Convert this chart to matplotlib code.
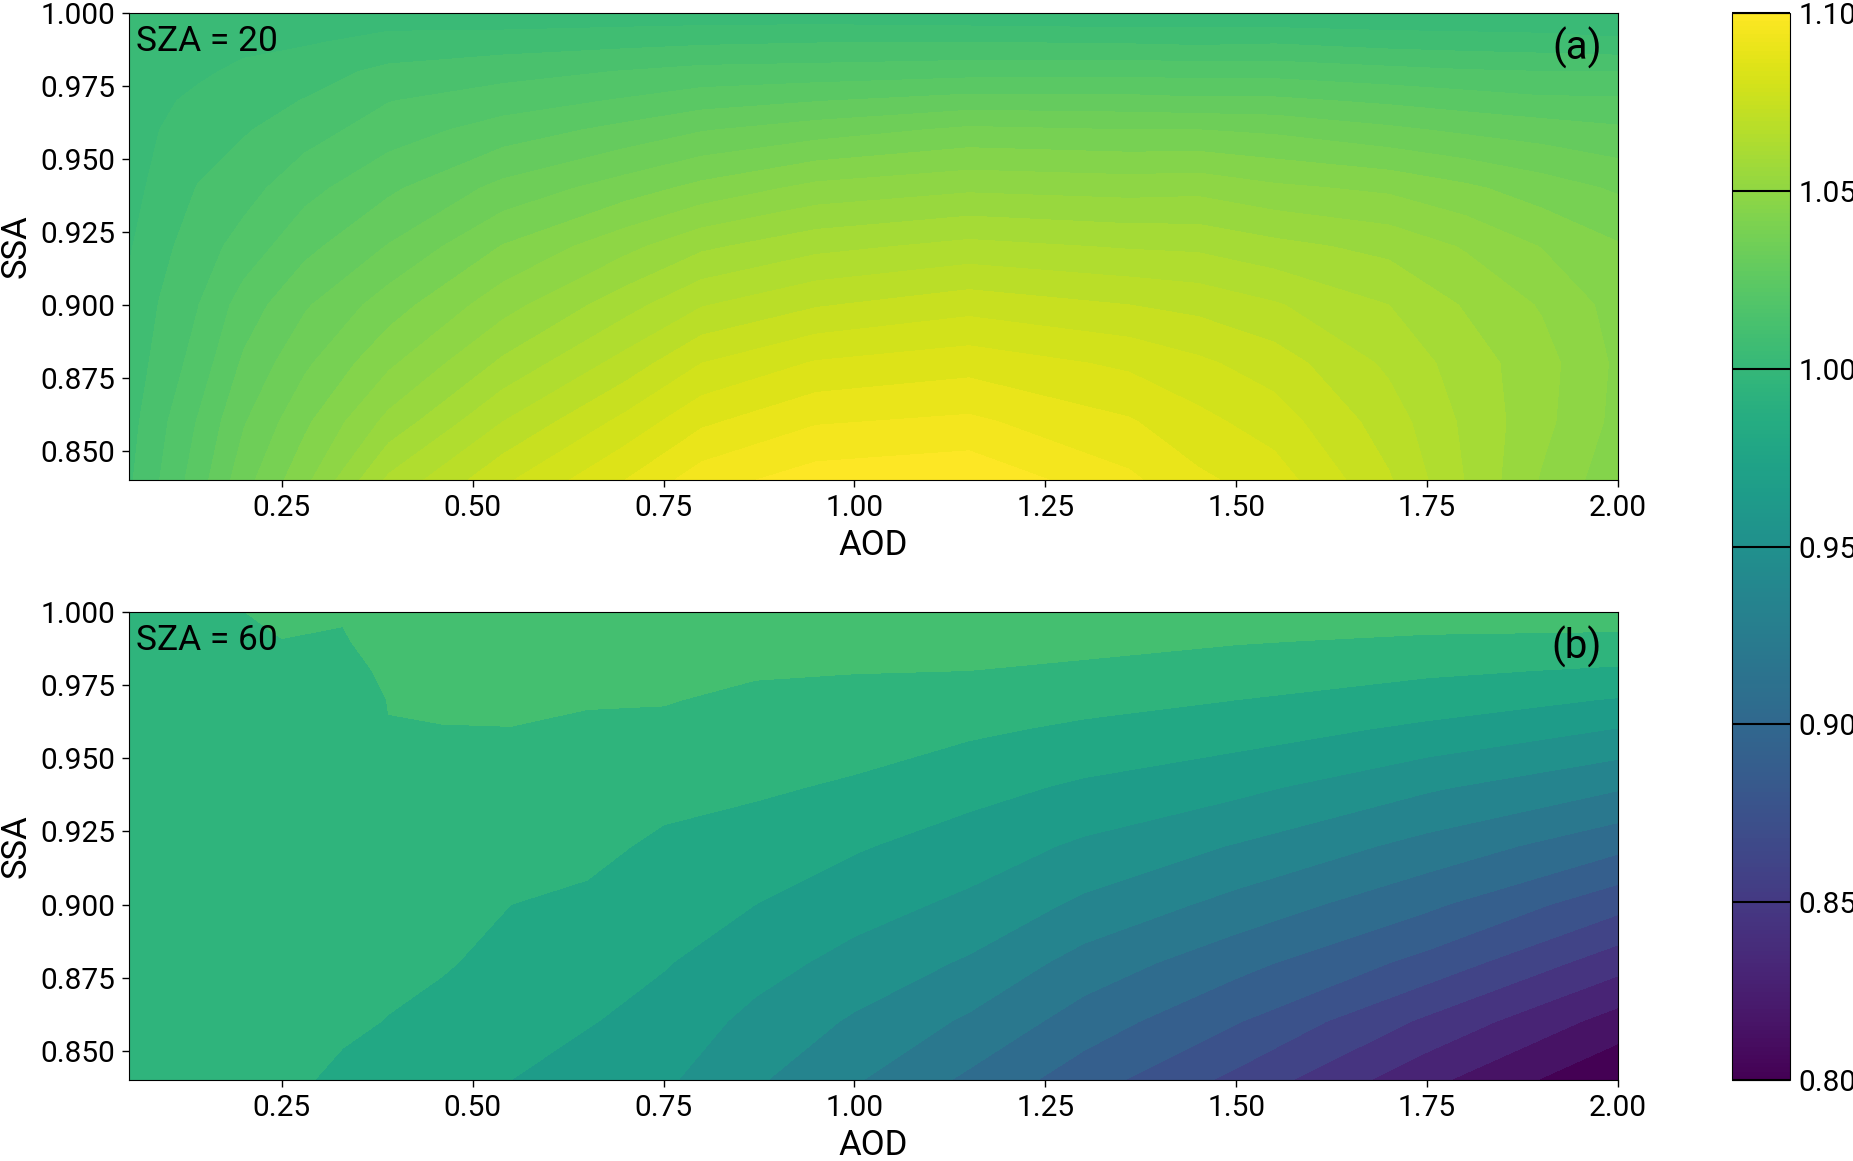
#!/usr/bin/env python3
import numpy as np
import matplotlib
matplotlib.use("Agg")
import matplotlib.pyplot as plt
from matplotlib.cm import ScalarMappable
from matplotlib.colors import Normalize

plt.rcParams["font.family"] = ["Roboto", "DejaVu Sans"]

# SSA rows shared by both panels
SSA = [0.84, 0.86, 0.88, 0.90, 0.92, 0.94, 0.96, 0.97, 0.98, 0.99, 1.00]

# panel (a), SZA = 20: one list per AOD column
AOD_A = [0.05, 0.09, 0.14, 0.20, 0.28, 0.39, 0.54, 0.70, 0.80,
         0.95, 1.15, 1.36, 1.45, 1.55, 1.70, 1.80, 1.90, 2.00]
Z_A = [
    [1.0092, 1.0082, 1.0072, 1.0060, 1.0045, 1.0030, 1.0025, 1.0020, 1.0016, 1.0012, 1.0008],
    [1.0150, 1.0135, 1.0115, 1.0102, 1.0085, 1.0067, 1.0050, 1.0040, 1.0032, 1.0022, 1.0012],
    [1.0225, 1.0203, 1.0170, 1.0148, 1.0125, 1.0102, 1.0077, 1.0062, 1.0040, 1.0027, 1.0015],
    [1.0330, 1.0295, 1.0258, 1.0222, 1.0170, 1.0130, 1.0095, 1.0078, 1.0062, 1.0035, 1.0018],
    [1.0435, 1.0389, 1.0340, 1.0293, 1.0235, 1.0183, 1.0128, 1.0102, 1.0078, 1.0045, 1.0022],
    [1.0610, 1.0515, 1.0440, 1.0375, 1.0303, 1.0240, 1.0175, 1.0148, 1.0112, 1.0065, 1.0025],
    [1.0740, 1.0650, 1.0560, 1.0480, 1.0403, 1.0315, 1.0222, 1.0175, 1.0132, 1.0075, 1.0015],
    [1.0850, 1.0765, 1.0670, 1.0580, 1.0485, 1.0375, 1.0265, 1.0205, 1.0152, 1.0085, 1.0017],
    [1.0927, 1.0840, 1.0750, 1.0646, 1.0540, 1.0415, 1.0296, 1.0228, 1.0165, 1.0092, 1.0018],
    [1.0975, 1.0895, 1.0805, 1.0695, 1.0585, 1.0465, 1.0325, 1.0247, 1.0170, 1.0098, 1.0018],
    [1.0990, 1.0910, 1.0830, 1.0730, 1.0615, 1.0490, 1.0360, 1.0270, 1.0180, 1.0100, 1.0010],
    [1.0910, 1.0855, 1.0790, 1.0700, 1.0595, 1.0480, 1.0350, 1.0267, 1.0183, 1.0095, 1.0005],
    [1.0860, 1.0815, 1.0760, 1.0685, 1.0590, 1.0485, 1.0350, 1.0260, 1.0180, 1.0090, 1.0010],
    [1.0825, 1.0775, 1.0725, 1.0655, 1.0565, 1.0460, 1.0340, 1.0260, 1.0180, 1.0095, 1.0005],
    [1.0705, 1.0675, 1.0640, 1.0600, 1.0535, 1.0440, 1.0310, 1.0240, 1.0165, 1.0080, 1.0005],
    [1.0598, 1.0590, 1.0575, 1.0545, 1.0495, 1.0410, 1.0290, 1.0225, 1.0155, 1.0075, 1.0005],
    [1.0495, 1.0515, 1.0520, 1.0495, 1.0448, 1.0375, 1.0275, 1.0210, 1.0150, 1.0070, 1.0005],
    [1.0415, 1.0435, 1.0440, 1.0430, 1.0405, 1.0343, 1.0258, 1.0208, 1.0150, 1.0060, 1.0005],
]

# panel (b), SZA = 60
AOD_B = [0.05, 0.17, 0.25, 0.33, 0.39, 0.46, 0.55, 0.65,
         0.75, 0.87, 1.00, 1.15, 1.30, 1.50, 1.75, 2.00]
Z_B = [
    [1.0000, 1.0000, 1.0000, 1.0000, 1.0010, 1.0020, 1.0030, 1.0030, 1.0040, 1.0050, 1.0060],
    [1.0005, 1.0010, 1.0010, 1.0020, 1.0020, 1.0030, 1.0040, 1.0050, 1.0060, 1.0070, 1.0080],
    [0.9985, 1.0000, 1.0010, 1.0020, 1.0030, 1.0040, 1.0050, 1.0060, 1.0070, 1.0097, 1.0130],
    [0.9920, 0.9975, 1.0000, 1.0020, 1.0040, 1.0050, 1.0055, 1.0060, 1.0065, 1.0085, 1.0115],
    [0.9900, 0.9945, 0.9985, 1.0010, 1.0035, 1.0065, 1.0098, 1.0102, 1.0120, 1.0170, 1.0220],
    [0.9850, 0.9900, 0.9965, 1.0000, 1.0030, 1.0060, 1.0095, 1.0125, 1.0160, 1.0200, 1.0235],
    [0.9800, 0.9850, 0.9900, 0.9950, 1.0000, 1.0050, 1.0098, 1.0120, 1.0160, 1.0200, 1.0240],
    [0.9730, 0.9810, 0.9870, 0.9925, 0.9985, 1.0030, 1.0080, 1.0110, 1.0150, 1.0190, 1.0240],
    [0.9675, 0.9742, 0.9810, 0.9867, 0.9925, 0.9994, 1.0070, 1.0108, 1.0150, 1.0190, 1.0240],
    [0.9520, 0.9610, 0.9706, 0.9800, 0.9886, 0.9970, 1.0035, 1.0070, 1.0115, 1.0180, 1.0240],
    [0.9365, 0.9480, 0.9600, 0.9710, 0.9815, 0.9930, 1.0020, 1.0060, 1.0105, 1.0170, 1.0230],
    [0.9170, 0.9326, 0.9480, 0.9617, 0.9730, 0.9850, 0.9975, 1.0040, 1.0100, 1.0165, 1.0230],
    [0.8970, 0.9130, 0.9290, 0.9470, 0.9625, 0.9775, 0.9925, 0.9998, 1.0070, 1.0150, 1.0220],
    [0.8710, 0.8910, 0.9100, 0.9300, 0.9490, 0.9690, 0.9870, 0.9950, 1.0025, 1.0110, 1.0200],
    [0.8340, 0.8570, 0.8850, 0.9080, 0.9300, 0.9520, 0.9770, 0.9875, 0.9975, 1.0075, 1.0180],
    [0.8010, 0.8235, 0.8510, 0.8800, 0.9090, 0.9365, 0.9645, 0.9790, 0.9930, 1.0060, 1.0180],
]

X_TICKS = [0.25, 0.50, 0.75, 1.00, 1.25, 1.50, 1.75, 2.00]
Y_TICKS = [0.850, 0.875, 0.900, 0.925, 0.950, 0.975, 1.000]
CBAR_TICKS = [0.80, 0.85, 0.90, 0.95, 1.00, 1.05, 1.10]

W, H = 1853, 1161
VMIN, VMAX = 0.80, 1.10


def add_axes_px(fig, left, top, right, bottom):
    return fig.add_axes([left / W, 1 - bottom / H, (right - left) / W, (bottom - top) / H])


def draw_panel(ax, aod, z, step, cmin, cmax, sza, tag):
    levels = np.arange(VMIN, VMAX + step / 2, step)
    ax.contourf(aod, SSA, np.array(z).T, levels=levels, cmap="viridis", vmin=cmin, vmax=cmax)
    ax.set_xlim(0.05, 2.0)
    ax.set_ylim(0.84, 1.0)
    ax.set_xticks(X_TICKS)
    ax.set_xticklabels([f"{t:.2f}" for t in X_TICKS])
    ax.set_yticks(Y_TICKS)
    ax.set_yticklabels([f"{t:.3f}" for t in Y_TICKS])
    ax.tick_params(labelsize=21.5, length=5, width=1, pad=5)
    ax.set_xlabel("AOD", fontsize=25)
    ax.set_ylabel("SSA", fontsize=25)
    ax.xaxis.set_label_coords(0.5, -0.105)
    ax.yaxis.set_label_coords(-0.0645, 0.5)
    ax.text(0.005, 0.94, f"SZA = {sza}", transform=ax.transAxes,
            fontsize=25.5, ha="left", va="center")
    ax.text(0.989, 0.925, tag, transform=ax.transAxes,
            fontsize=29, ha="right", va="center")


def main():
    fig = plt.figure(figsize=(W / 100, H / 100), dpi=100)

    ax_a = add_axes_px(fig, 129, 13, 1618, 480)
    ax_b = add_axes_px(fig, 129, 612, 1618, 1080)
    draw_panel(ax_a, AOD_A, Z_A, 0.005, 0.8025, 1.0975, 20, "(a)")
    draw_panel(ax_b, AOD_B, Z_B, 0.015, 0.8075, 1.1075, 60, "(b)")

    cax = add_axes_px(fig, 1732, 13, 1790, 1080)
    cbar = fig.colorbar(ScalarMappable(Normalize(VMIN, VMAX), cmap="viridis"), cax=cax)
    cbar.set_ticks(CBAR_TICKS)
    cbar.set_ticklabels([f"{t:.2f}" for t in CBAR_TICKS])
    # ticks run across the whole bar
    cbar.ax.tick_params(direction="in", length=41.8, width=1.5, labelsize=21.5, pad=6)

    fig.savefig("out.png", dpi=100)


if __name__ == "__main__":
    main()
